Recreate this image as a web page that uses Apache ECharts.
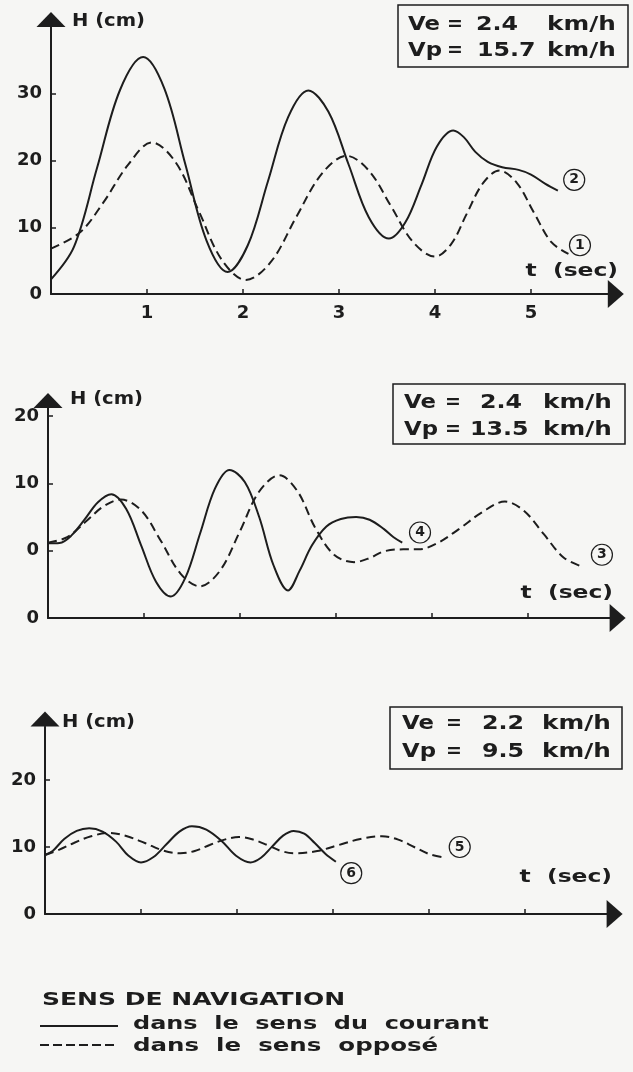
<!DOCTYPE html>
<html>
<head>
<meta charset="utf-8">
<script src="https://cdn.jsdelivr.net/npm/echarts@6/dist/echarts.min.js"></script>
<style>
  html, body { margin: 0; padding: 0; background: #f6f6f4; }
  #chart { width: 633px; height: 1072px; }
</style>
</head>
<body>
<div id="chart"></div>
<script>
// panel 1 (Ve 2.4 / Vp 15.7) : curve 2 = with the current, curve 1 = against
const p1CourantT = [0, 0.24, 0.48, 0.72, 0.96, 1.18, 1.4, 1.62, 1.84, 2.05, 2.26, 2.47, 2.68, 2.89, 3.1, 3.31, 3.52, 3.69, 3.86, 4.02, 4.19, 4.3, 4.42, 4.55, 4.7, 4.87, 5.0, 5.15, 5.28]
const p1CourantH = [2.2, 7.1, 18.9, 30.6, 35.5, 30.8, 19.4, 8.0, 3.3, 7.3, 16.9, 26.5, 30.5, 27.3, 19.4, 11.5, 8.3, 10.7, 16.4, 22.1, 24.5, 23.5, 21.3, 19.8, 19.0, 18.6, 17.9, 16.5, 15.5]
const p1OpposeT = [0, 0.3, 0.55, 0.8, 1.05, 1.3, 1.54, 1.78, 2.03, 2.29, 2.55, 2.82, 3.08, 3.31, 3.54, 3.77, 4.0, 4.17, 4.33, 4.5, 4.67, 4.85, 5.03, 5.21, 5.39]
const p1OpposeH = [6.8, 9.2, 13.8, 19.3, 22.7, 19.7, 12.4, 5.1, 2.1, 4.8, 11.4, 18.0, 20.7, 18.5, 13.2, 7.8, 5.6, 7.5, 12.0, 16.6, 18.5, 16.7, 12.2, 7.8, 6.0]

// panel 2 (Ve 2.4 / Vp 13.5) : curve 4 = with the current, curve 3 = against
const p2CourantT = [0, 0.12, 0.24, 0.38, 0.52, 0.66, 0.815, 0.97, 1.125, 1.28, 1.43, 1.585, 1.74, 1.89, 2.05, 2.2, 2.35, 2.5, 2.62, 2.75, 2.9, 3.05, 3.21, 3.35, 3.5, 3.6, 3.69]
const p2CourantH = [1.1, 1.15, 2.2, 4.6, 7.2, 8.4, 6.2, 0.8, -4.6, -6.8, -4.05, 2.6, 9.25, 12.0, 10.2, 5.0, -2.2, -5.9, -3.0, 0.8, 3.6, 4.7, 5.0, 4.6, 3.2, 2.0, 1.2]
const p2OpposeT = [0, 0.2, 0.4, 0.58, 0.76, 0.97, 1.17, 1.38, 1.58, 1.79, 2.0, 2.2, 2.41, 2.6, 2.78, 2.98, 3.19, 3.35, 3.5, 3.7, 3.86, 4.04, 4.28, 4.52, 4.76, 4.96, 5.165, 5.37, 5.57]
const p2OpposeH = [1.2, 2.0, 4.4, 6.6, 7.6, 6.0, 1.6, -3.4, -5.3, -3.0, 2.9, 8.8, 11.2, 8.8, 3.5, -0.6, -1.7, -1.1, -0.1, 0.2, 0.2, 1.0, 3.2, 5.7, 7.3, 5.9, 2.45, -1.0, -2.4]

// panel 3 (Ve 2.2 / Vp 9.5) : curve 6 = with the current, curve 5 = against
const p3CourantT = [0, 0.08, 0.2, 0.33, 0.46, 0.6, 0.74, 0.87, 1.0, 1.13, 1.265, 1.4, 1.53, 1.68, 1.84, 1.99, 2.14, 2.25, 2.365, 2.48, 2.59, 2.7, 2.81, 2.92, 3.03]
const p3CourantH = [8.8, 9.4, 11.2, 12.4, 12.8, 12.3, 10.8, 8.7, 7.7, 8.5, 10.4, 12.3, 13.1, 12.6, 10.9, 8.7, 7.7, 8.4, 10.05, 11.7, 12.4, 12.0, 10.6, 9.0, 7.8]
const p3OpposeT = [0, 0.15, 0.3, 0.48, 0.67, 0.855, 1.04, 1.225, 1.41, 1.56, 1.715, 1.87, 2.02, 2.17, 2.315, 2.46, 2.61, 2.835, 3.06, 3.285, 3.51, 3.68, 3.845, 4.01, 4.18]
const p3OpposeH = [8.8, 9.6, 10.6, 11.6, 12.1, 11.6, 10.6, 9.5, 9.06, 9.4, 10.3, 11.1, 11.5, 11.1, 10.3, 9.4, 9.06, 9.4, 10.3, 11.2, 11.6, 11.1, 10.0, 8.9, 8.4]

// circled curve numbers [t, H]
const curveNumbers = ['2', '1', '4', '3', '6', '5']
const curveTagPos = [[5.45, 17.1], [5.51, 7.3], [3.875, 2.7], [5.77, -0.6], [3.19, 6.1], [4.32, 10]]

// axes
const xTicks = [1, 2, 3, 4, 5]
const xTickLabels = ['1', '2', '3', '4', '5']
const yTicks1 = [0, 10, 20, 30]
const yTickLabels1 = ['0', '10', '20', '30']
const yTicks2 = [-10, 0, 10, 20]
const yTickLabels2 = ['0', '0', '10', '20']
const yTicks3 = [0, 10, 20]
const yTickLabels3 = ['0', '10', '20']

const veValues = ['2.4', '2.4', '2.2']
const vpValues = ['15.7', '13.5', '9.5']

const ink = '#1d1d1d'
const paper = '#f6f6f4'
const font = '"DejaVu Sans", "Liberation Sans", sans-serif'

const zip = (ts, hs) => ts.map((t, i) => [t, hs[i]])

const grids = [
  { left: 51, top: 27, width: 5.8 * 96, height: 267 },
  { left: 48, top: 408, width: 5.85 * 96, height: 210 },
  { left: 45, top: 726.4, width: 5.85 * 96, height: 187.6 }
].map(g => ({ ...g, outerBoundsMode: 'none', containLabel: false }))

const xMax = [5.8, 5.85, 5.85]
const yRange = [[0, 40], [-10, 21.2], [0, 28]]
const yTicks = [yTicks1, yTicks2, yTicks3]
const yLabels = [yTickLabels1, yTickLabels2, yTickLabels3]

const xAxes = xMax.map((max, i) => ({
  type: 'value', gridIndex: i, min: 0, max,
  axisLine: {
    onZero: false,
    lineStyle: { color: ink, width: 2 },
    symbol: ['none', 'triangle'], symbolSize: [28, 16], symbolOffset: [0, 8]
  },
  axisTick: { show: true, inside: true, length: 5, customValues: xTicks, lineStyle: { color: ink, width: 1.5 } },
  axisLabel: {
    show: i === 0, customValues: xTicks,
    formatter: v => xTickLabels[xTicks.indexOf(v)] ?? '',
    color: ink, fontSize: 18, fontWeight: 'bold', fontFamily: font, margin: 10
  },
  splitLine: { show: false }
}))

const yAxes = yRange.map(([min, max], i) => ({
  type: 'value', gridIndex: i, min, max,
  axisLine: {
    show: true, onZero: false,
    lineStyle: { color: ink, width: 2 },
    symbol: ['none', 'triangle'], symbolSize: [29, 15], symbolOffset: [0, 7.5]
  },
  axisTick: { show: true, inside: true, length: 5, customValues: yTicks[i].filter(v => v !== min), lineStyle: { color: ink, width: 1.5 } },
  axisLabel: {
    customValues: yTicks[i],
    formatter: v => yLabels[i][yTicks[i].indexOf(v)] ?? '',
    color: ink, fontSize: 18, fontWeight: 'bold', fontFamily: font, margin: 9
  },
  splitLine: { show: false }
}))

const tag = (k) => ({
  symbol: 'circle', symbolSize: 21, silent: true,
  itemStyle: { color: paper, borderColor: ink, borderWidth: 1.2 },
  label: { show: true, position: 'inside', formatter: curveNumbers[k], color: ink, fontSize: 14, fontWeight: 'bold', fontFamily: font },
  data: [{ coord: curveTagPos[k] }]
})

const curve = (idx, ts, hs, dashed, k) => ({
  type: 'line', xAxisIndex: idx, yAxisIndex: idx,
  data: zip(ts, hs), smooth: 0.35, showSymbol: false, symbol: 'none', clip: false,
  lineStyle: { color: ink, width: 2, type: dashed ? [9, 5] : 'solid' },
  markPoint: tag(k)
})

const series = [
  curve(0, p1CourantT, p1CourantH, false, 0),
  curve(0, p1OpposeT, p1OpposeH, true, 1),
  curve(1, p2CourantT, p2CourantH, false, 2),
  curve(1, p2OpposeT, p2OpposeH, true, 3),
  curve(2, p3CourantT, p3CourantH, false, 4),
  curve(2, p3OpposeT, p3OpposeH, true, 5)
]

// stretched bold text, the original lettering is an extended face
const txt = (x, y, s, size, sx, align = 'left') => ({
  type: 'text', x, y, scaleX: sx, silent: true,
  style: {
    text: s, font: `bold ${size}px ${font}`, fill: ink,
    textAlign: align, textVerticalAlign: 'middle', align, verticalAlign: 'middle'
  }
})

const boxes = [
  { x: 398, y: 5, w: 230, h: 62, l1: 25, l2: 51, name: 408, eq: 447, n1: 476, n2: 477, unit: 547 },
  { x: 393, y: 384, w: 232, h: 60, l1: 403, l2: 430, name: 404, eq: 445, n1: 480, n2: 470, unit: 543 },
  { x: 390, y: 707, w: 232, h: 62, l1: 724, l2: 752, name: 402, eq: 446, n1: 482, n2: 482, unit: 542 }
]

const graphic = []
boxes.forEach((b, i) => {
  graphic.push({ type: 'rect', silent: true, shape: { x: b.x, y: b.y, width: b.w, height: b.h }, style: { fill: 'none', stroke: ink, lineWidth: 1.5 } })
  graphic.push(txt(b.name, b.l1, 'Ve', 19, 1.2), txt(b.eq, b.l1, '=', 19, 1.0), txt(b.n1, b.l1, veValues[i], 19, 1.25), txt(b.unit, b.l1, 'km/h', 19, 1.3))
  graphic.push(txt(b.name, b.l2, 'Vp', 19, 1.2), txt(b.eq, b.l2, '=', 19, 1.0), txt(b.n2, b.l2, vpValues[i], 19, 1.25), txt(b.unit, b.l2, 'km/h', 19, 1.3))
})

// axis names
graphic.push(txt(72, 21.5, 'H (cm)', 17, 1.15), txt(70, 400, 'H (cm)', 17, 1.15), txt(62, 723, 'H (cm)', 17, 1.15))
graphic.push(txt(618, 271, 't  (sec)', 18, 1.3, 'right'), txt(613, 593, 't  (sec)', 18, 1.3, 'right'), txt(612, 877, 't  (sec)', 18, 1.3, 'right'))

// key
graphic.push(txt(42, 1000, 'SENS DE NAVIGATION', 18, 1.39))
graphic.push({ type: 'line', silent: true, shape: { x1: 40, y1: 1026, x2: 118, y2: 1026 }, style: { stroke: ink, lineWidth: 2 } })
graphic.push({ type: 'line', silent: true, shape: { x1: 40, y1: 1045, x2: 118, y2: 1045 }, style: { stroke: ink, lineWidth: 2, lineDash: [9, 4] } })
graphic.push(txt(133, 1024, 'dans  le  sens  du  courant', 18, 1.33))
graphic.push(txt(133, 1046, 'dans  le  sens  opposé', 18, 1.36))

const chart = echarts.init(document.getElementById('chart'), null, { renderer: 'canvas' })
chart.setOption({
  animation: false,
  backgroundColor: paper,
  textStyle: { fontFamily: font, color: ink },
  grid: grids,
  xAxis: xAxes,
  yAxis: yAxes,
  series,
  graphic: { elements: graphic }
})
</script>
</body>
</html>
